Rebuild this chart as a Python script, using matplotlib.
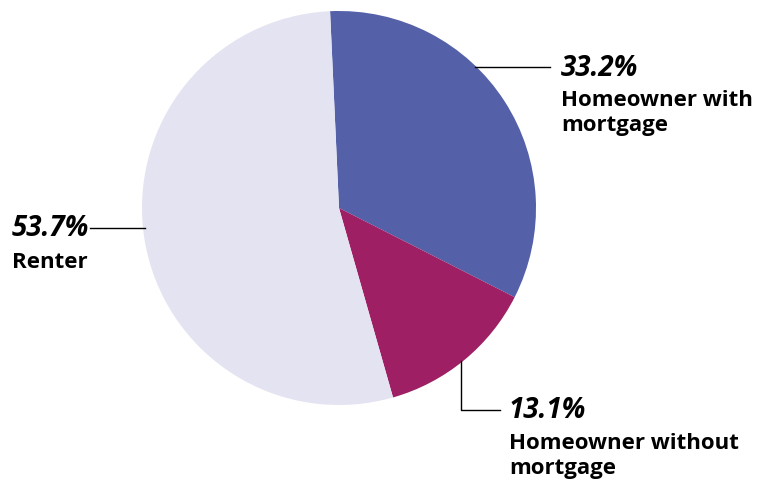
import numpy as np
import matplotlib.pyplot as plt

labels = ["Homeowner with\nmortgage", "Homeowner without\nmortgage", "Renter"]
shares = [33.2, 13.1, 53.7]
colors = ["#5461a8", "#9e1f63", "#e4e3f1"]

W, H = 760, 485
cx, cy, r = 339, H - 209, 197

fig = plt.figure(figsize=(W / 100, H / 100), dpi=100)
ax = fig.add_axes([0, 0, 1, 1])

ax.pie(shares, colors=colors, startangle=92.6, counterclock=False,
       center=(cx, cy), radius=r, frame=True,
       wedgeprops=dict(linewidth=0))
ax.set_xlim(0, W)
ax.set_ylim(0, H)
ax.set_aspect("equal")
ax.axis("off")

font = "Open Sans"
pct_kw = dict(fontsize=20, fontweight="bold", fontstyle="italic", family=font,
              color="black", va="center", ha="left")
lab_kw = dict(fontsize=16, fontweight="bold", family=font, color="black",
              va="top", ha="left", linespacing=1.25)


def edge_x(y, side):
    dy = y - cy
    return cx + side * np.sqrt(r ** 2 - dy ** 2)


# 33.2% label
y1 = H - 68
ax.plot([edge_x(y1, 1) - 2, 550], [y1, y1], color="black", lw=1)
ax.text(561, y1, f"{shares[0]}%", **pct_kw)
ax.text(561, y1 - 22, labels[0], **lab_kw)

# 53.7% label
y3 = H - 229
ax.plot([90, edge_x(y3, -1) + 2], [y3, y3], color="black", lw=1)
ax.text(12, y3, f"{shares[2]}%", **pct_kw)
ax.text(12, y3 - 23, labels[2], **lab_kw)

# 13.1% label
x2 = 461
ytop = cy - np.sqrt(r ** 2 - (x2 - cx) ** 2) + 2
y2 = H - 411
ax.plot([x2, x2, 500], [ytop, y2, y2], color="black", lw=1)
ax.text(509, y2, f"{shares[1]}%", **pct_kw)
ax.text(509, y2 - 22, labels[1], **lab_kw)

fig.savefig("out.png", dpi=100)
